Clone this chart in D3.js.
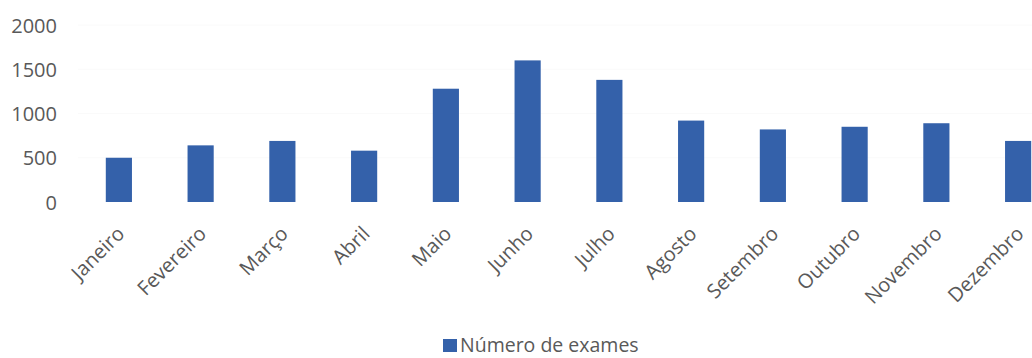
<!DOCTYPE html>
<html>
<head>
<meta charset="utf-8">
<script src="https://cdn.jsdelivr.net/npm/d3@7"></script>
<style>
  body { margin: 0; background: #fff; }
  svg text { font-family: "Open Sans", Lato, sans-serif; fill: #595959; }
</style>
</head>
<body>
<div id="container"></div>
<script>
const months = ['Janeiro', 'Fevereiro', 'Março', 'Abril', 'Maio', 'Junho',
    'Julho', 'Agosto', 'Setembro', 'Outubro', 'Novembro', 'Dezembro'];
const exames = [500, 640, 690, 580, 1280, 1600, 1380, 920, 820, 850, 890, 690];
const yTicks = [0, 500, 1000, 1500, 2000];
const seriesName = 'Número de exames';

const W = 1032, H = 358;
const svg = d3.select('#container').append('svg')
    .attr('width', W)
    .attr('height', H);

const x = d3.scaleBand()
    .domain(months)
    .range([78, 1059])
    .paddingInner(0.68)
    .paddingOuter(0.34);

const y = d3.scaleLinear()
    .domain([0, 2000])
    .range([202, 25]);

// gridlines, almost white in the original
svg.append('g')
    .selectAll('line')
    .data(yTicks.slice(1))
    .join('line')
    .attr('x1', 78).attr('x2', W)
    .attr('y1', d => y(d)).attr('y2', d => y(d))
    .attr('stroke', '#fafafa');

// y axis labels
const yAxis = svg.append('g')
    .attr('transform', 'translate(57,0)')
    .call(d3.axisLeft(y).tickValues(yTicks).tickFormat(d3.format('d')).tickSize(0).tickPadding(0));
yAxis.select('.domain').remove();
yAxis.selectAll('text')
    .attr('font-size', 20)
    .attr('dy', '0.35em');

// bars
svg.append('g')
    .selectAll('rect')
    .data(exames)
    .join('rect')
    .attr('x', (d, i) => x(months[i]))
    .attr('width', x.bandwidth())
    .attr('y', d => y(d))
    .attr('height', d => y(0) - y(d))
    .attr('fill', '#3461aa');

// x axis labels, rotated
const xAxis = svg.append('g')
    .attr('transform', 'translate(0,' + y(0) + ')')
    .call(d3.axisBottom(x).tickSize(0).tickPadding(0));
xAxis.select('.domain').remove();
xAxis.selectAll('text')
    .attr('font-size', 20)
    .attr('text-anchor', 'end')
    .attr('dy', null)
    .attr('y', 0)
    .attr('transform', 'translate(7,33) rotate(-45)');

// legend
const legend = svg.append('g').attr('transform', 'translate(443,339)');
legend.append('rect')
    .attr('width', 14).attr('height', 13)
    .attr('fill', '#3461aa');
legend.append('text')
    .attr('x', 17).attr('y', 13)
    .attr('font-size', 19.5)
    .text(seriesName);
</script>
</body>
</html>
